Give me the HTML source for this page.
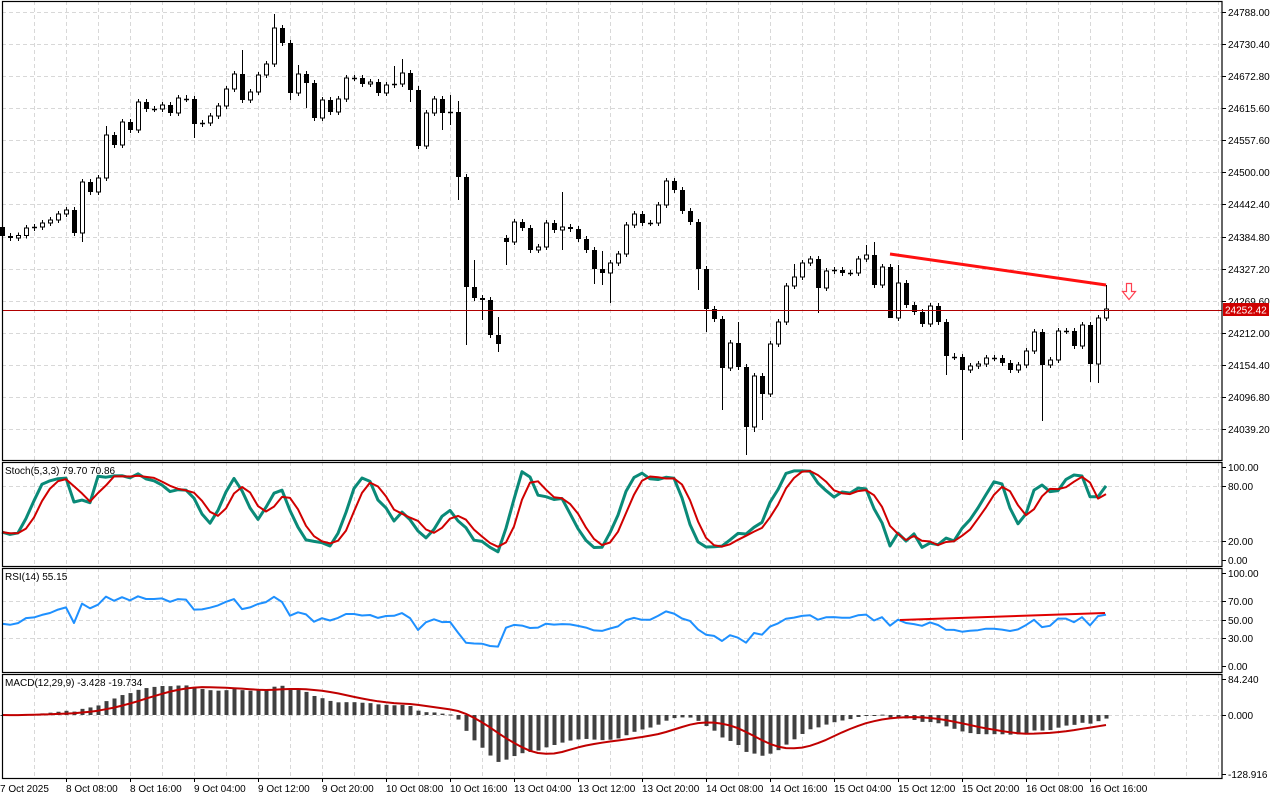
<!DOCTYPE html>
<html><head><meta charset="utf-8"><style>
html,body{margin:0;padding:0;background:#fff;width:1280px;height:800px;overflow:hidden}
svg{display:block;font-family:"Liberation Sans",sans-serif;font-size:10px}
</style></head><body>
<svg id="s" width="1280" height="800" xmlns="http://www.w3.org/2000/svg"></svg>
<script>
(function(){
var C=[236,238,235.5,228,227,223,220,214,210,233,182,192,178,135,145,122,130,102,109,109,105,113,98,99,124,123,116,106,89,74,100,92,75,64,28,43,93,74,83,118,100,112,99,78,78,84,82,93,85,84,73,90,146,113,99,113,112,177,287,298,300,335,344,242,222,228,250,247,223,230,227,229,239,250,269,273,263,254,225,214,223,223,205,181,190,211,222,269,309,319,368,343,367,427,376,394,344,322,286,277,263,259,288,271,270,273,273,259,255,285,267,318,283,305,312,324,306,322,356,357,370,366,364,358,358,363,370,365,351,332,365,360,331,331,346,325,364,318,309];
var O={0:227,63:238,35:28};
var HI={13:126,30:50,34:14,37:65,49:66,50:59,52:86,56:95,57:101,59:260,62:317,70:192,75:251,92:322,99:264,109:242,138:285,108:245,112:265};
var LO={10:242,24:138,36:100,38:108,51:102,55:130,56:125,57:200,58:345,60:320,62:352,63:265,70:250,74:284,75:285,76:303,87:290,88:332,90:410,93:455,94:432,95:420,102:313,111:313,118:375,120:440,130:421,136:382,137:383};
var N=C.length,s='';
function P(y){return 24788-(y-12)*57.6/32.08}
function L(x1,y1,x2,y2,c,w,d){return '<line x1="'+x1+'" y1="'+y1+'" x2="'+x2+'" y2="'+y2+'" stroke="'+c+'" stroke-width="'+(w||1)+'"'+(d?' stroke-dasharray="'+d+'"':'')+'/>'}
function T(x,y,t,a,c){return '<text x="'+x+'" y="'+y+'"'+(a?' text-anchor="'+a+'"':'')+' fill="'+(c||'#000')+'">'+t+'</text>'}
var panels=[[1,460],[462,566],[568,672],[674,778]];
var g='#d8d8d8';
for(var x=34;x<1222;x+=32)panels.forEach(function(p){s+=L(x+.5,p[0],x+.5,p[1],g,1,'4,3')});
var mainL=[24788.00,24730.40,24672.80,24615.60,24557.60,24500.00,24442.40,24384.80,24327.20,24269.60,24212.00,24154.40,24096.80,24039.20];
mainL.forEach(function(v,k){var y=12+k*32.08;s+=L(2,Math.round(y)+.5,1222,Math.round(y)+.5,g,1,'4,3');s+=L(1222,Math.round(y)+.5,1226,Math.round(y)+.5,'#000');s+=T(1228,Math.round(y)+4,v.toFixed(2))});
function sy(v){return 560-v*0.93} function ry(v){return 666-v*0.93} function my(v){return 715-v*36/84.24}
[80,20].forEach(function(a){s+=L(2,Math.round(sy(a))+.5,1222,Math.round(sy(a))+.5,g,1,'4,3')});
[70,50,30].forEach(function(a){s+=L(2,Math.round(ry(a))+.5,1222,Math.round(ry(a))+.5,g,1,'4,3')});
s+=L(2,715.5,1222,715.5,g,1,'4,3');
[[sy(100),'100.00'],[sy(80),'80.00'],[sy(20),'20.00'],[sy(0),'0.00'],[ry(100),'100.00'],[ry(70),'70.00'],[ry(50),'50.00'],[ry(30),'30.00'],[ry(0),'0.00'],[679,'84.240'],[715,'0.000'],[774,'-128.916']].forEach(function(a){var y=Math.round(a[0]);s+=L(1222,y+.5,1226,y+.5,'#000');s+=T(1228,y+4,a[1])});
var hi=[],lo=[],cl=[];
for(var i=0;i<N;i++){var x=2+8*i,c=C[i],o=(O[i]!==undefined)?O[i]:(i?C[i-1]:c);var tp=Math.min(o,c),bt=Math.max(o,c);var h=HI[i]!==undefined?HI[i]:tp-3,l=LO[i]!==undefined?LO[i]:bt+3;
cl.push(P(c));hi.push(P(h));lo.push(P(l));
s+=L(x+.5,h,x+.5,l,'#000');
if(Math.abs(bt-tp)<1.2)s+=L(x-2,Math.round(c)+.5,x+3,Math.round(c)+.5,'#000',1.5);
else if(c<o)s+='<rect x="'+(x-1.5)+'" y="'+tp+'" width="4" height="'+(bt-tp)+'" fill="#fff" stroke="#000" stroke-width="1"/>';
else s+='<rect x="'+(x-2)+'" y="'+tp+'" width="5" height="'+(bt-tp)+'" fill="#000"/>';}
s+=L(2,310.5,1222,310.5,'#b00000',1);
s+='<rect x="1223" y="303" width="46" height="13" fill="#d00000"/>'+T(1225,313.5,'24252.42','','#fff');
s+=L(890,254,1106,285,'#ff1010',3);
s+='<path d="M1126.5,283.5h5v8h4l-6.5,8l-6.5,-8h4z" fill="#fff" stroke="#ff4050" stroke-width="1.2"/>';
function sma(a,n){return a.map(function(_,i){var k=0,t=0;for(var j=Math.max(0,i-n+1);j<=i;j++){t+=a[j];k++}return t/k})}
var raw=cl.map(function(c,i){var h=-1e9,l=1e9;for(var j=Math.max(0,i-4);j<=i;j++){h=Math.max(h,hi[j]);l=Math.min(l,lo[j])}return h>l?(c-l)/(h-l)*100:50});
raw[0]=30;raw[1]=25;
var K=sma(raw,3),D=sma(K,3);
K[N-1]=79.7;D[N-1]=70.86;K[N-2]=68;D[N-2]=66;
function pl(a,f,c,w){return '<polyline fill="none" stroke="'+c+'" stroke-width="'+w+'" stroke-linejoin="round" points="'+a.map(function(v,i){return (2+8*i)+','+f(v).toFixed(1)}).join(' ')+'"/>'}
s+=pl(K,sy,'#0a8a78',3)+pl(D,sy,'#d00000',2);
var ag=5,al=6,R=[];for(var i=0;i<N;i++){var d=i?cl[i]-cl[i-1]:0;var gg=Math.max(d,0),ll=Math.max(-d,0);ag=(ag*13+gg)/14;al=(al*13+ll)/14;R.push(al==0?70:100-100/(1+ag/al))}
s+=pl(R,ry,'#1e90ff',2);
s+=L(900,620,1105,613,'#e00000',2);
function ema(a,n){var k=2/(n+1),r=[],e=a[0];a.forEach(function(v){e=v*k+e*(1-k);r.push(e)});return r}
var e1=ema(cl,12),e2=ema(cl,29),M=cl.map(function(_,i){return e1[i]-e2[i]}),S=sma(M,9);
M.forEach(function(v,i){var x=2+8*i,y=my(v);s+='<rect x="'+(x-1.5)+'" y="'+Math.min(y,715)+'" width="4" height="'+Math.max(1,Math.abs(y-715))+'" fill="#404040"/>'});
s+=pl(S,my,'#c00000',2);
panels.forEach(function(p){s+='<rect x="2.5" y="'+(p[0]+.5)+'" width="1219.5" height="'+(p[1]-p[0])+'" fill="none" stroke="#000" stroke-width="1.2"/>'});
s+=T(5,474,'Stoch(5,3,3) 79.70 70.86')+T(5,580,'RSI(14) 55.15')+T(5,686,'MACD(12,29,9) -3.428 -19.734');
var labs=['7 Oct 2025','8 Oct 08:00','8 Oct 16:00','9 Oct 04:00','9 Oct 12:00','9 Oct 20:00','10 Oct 08:00','10 Oct 16:00','13 Oct 04:00','13 Oct 12:00','13 Oct 20:00','14 Oct 08:00','14 Oct 16:00','15 Oct 04:00','15 Oct 12:00','15 Oct 20:00','16 Oct 08:00','16 Oct 16:00'];
labs.forEach(function(t,k){var x=2+64*k;if(k)s+=L(x+.5,778,x+.5,782,'#000');s+=T(k?x:0,792,t)});
document.getElementById('s').innerHTML=s;
})();
</script>
</body></html>
